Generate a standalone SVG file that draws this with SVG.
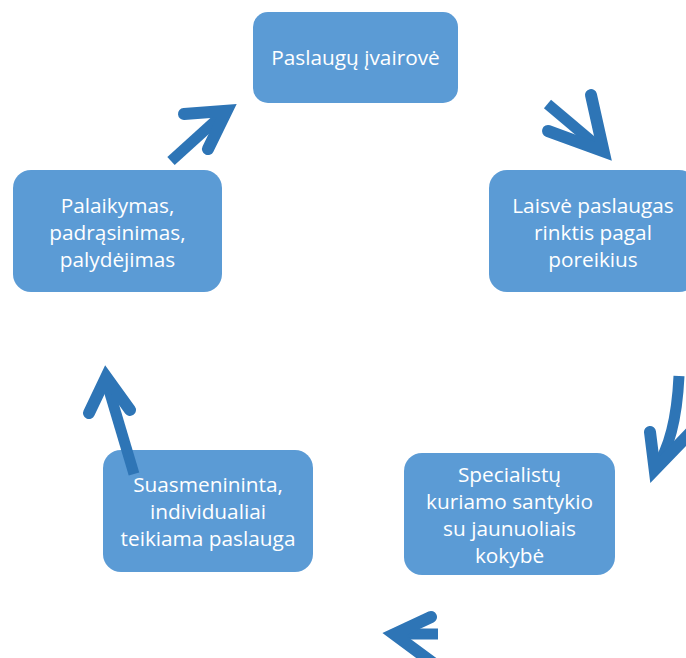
<svg xmlns="http://www.w3.org/2000/svg" width="686" height="658" viewBox="0 0 686 658">
<style>
.box{fill:#5B9BD5;}
.t{font-family:"Open Sans","Liberation Sans",sans-serif;font-size:20.8px;fill:#FFFFFF;text-anchor:middle;}
.shaft{fill:none;stroke:#2E75B6;stroke-width:11;stroke-linecap:butt;}
.head{fill:none;stroke:#2E75B6;stroke-width:12;stroke-linecap:round;stroke-linejoin:miter;stroke-miterlimit:10;}
</style>
<rect width="686" height="658" fill="#FFFFFF"/>
<g id="node1">
<rect class="box" x="253" y="12" width="205" height="91" rx="15"/>
<text class="t" x="355.5" y="65">Paslaugų įvairovė</text>
</g>
<g id="node2">
<rect class="box" x="489" y="170" width="208" height="122" rx="18"/>
<text class="t" x="593" y="213">Laisvė paslaugas</text>
<text class="t" x="593" y="240">rinktis pagal</text>
<text class="t" x="593" y="267">poreikius</text>
</g>
<g id="node3">
<rect class="box" x="404" y="453" width="211" height="122" rx="18"/>
<text class="t" x="509.5" y="482">Specialistų</text>
<text class="t" x="509.5" y="509">kuriamo santykio</text>
<text class="t" x="509.5" y="536">su jaunuoliais</text>
<text class="t" x="509.5" y="563">kokybė</text>
</g>
<g id="node4">
<rect class="box" x="103" y="450" width="210" height="122" rx="18"/>
<text class="t" x="208" y="492">Suasmenininta,</text>
<text class="t" x="208" y="519">individualiai</text>
<text class="t" x="208" y="546">teikiama paslauga</text>
</g>
<g id="node5">
<rect class="box" x="13" y="170" width="209" height="122" rx="18"/>
<text class="t" x="117.5" y="213">Palaikymas,</text>
<text class="t" x="117.5" y="240">padrąsinimas,</text>
<text class="t" x="117.5" y="267">palydėjimas</text>
</g>
<g id="connectors">
<path class="shaft" d="M171 161 L224 113"/>
<polyline class="head" points="184,114 226.7,110.7 208,149"/>
<path class="shaft" d="M547.5 104 L602 150"/>
<polyline class="head" points="591,95 603.6,151.4 548,131"/>
<path class="shaft" d="M679 376 Q676 440 655 469"/>
<polyline class="head" points="650,432 654.7,469.8 692,431"/>
<path class="shaft" d="M438 634 L395 634"/>
<polyline class="head" points="431,617 394.1,634.2 433,663"/>
<path class="shaft" d="M134 474 Q121 430 106 380"/>
<polyline class="head" points="89,413 106.2,376.9 130,410"/>
</g>
</svg>
